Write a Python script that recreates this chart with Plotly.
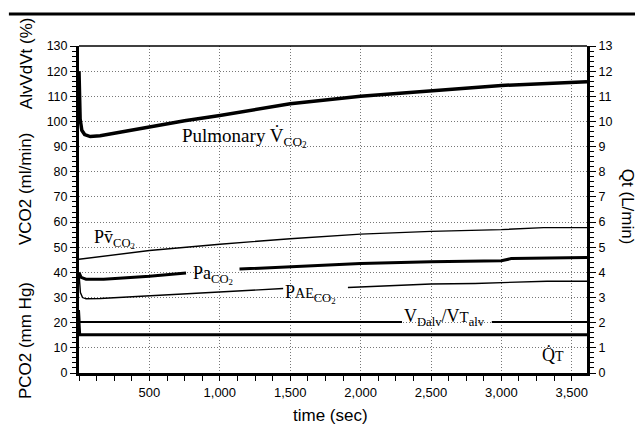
import plotly.graph_objects as go

# ---------------- data ----------------
t_pulm = [0, 8, 20, 40, 80, 150, 300, 500, 750, 1000, 1250, 1500, 2000, 2500, 3000, 3608]
v_pulm = [120, 101, 96.5, 94.8, 94, 94.3, 95.8, 97.8, 100.3, 102.4, 104.8, 107, 110, 112.3, 114.3, 115.8]

t_pv = [0, 500, 1000, 1500, 2000, 2500, 3000, 3300, 3608]
v_pv = [45.2, 48.7, 51.2, 53.4, 55.2, 56.3, 57.0, 57.8, 57.8]

t_pa = [0, 15, 50, 175, 500, 760, 950, 1140, 1500, 2000, 2500, 3000, 3070, 3608]
v_pa = [40, 38, 37.3, 37.3, 38.5, 39.8, None, 41.3, 42.2, 43.5, 44.2, 44.6, 45.5, 45.9]

t_pae = [0, 10, 25, 50, 150, 500, 1000, 1290, 1450, 1700, 1910, 2000, 2500, 2813, 3325, 3608]
v_pae = [39.5, 32, 30, 29.5, 29.6, 30.7, 32.1, 33.0, 33.6, None, 34.0, 34.2, 35.4, 35.6, 36.5, 36.5]

t_vd = [0, 5, 2294, 2600, 2932, 3608]
v_vd = [25, 20.3, 20.3, None, 20.3, 20.3]

t_qt = [0, 5, 3608]
v_qt = [2.0, 1.52, 1.52]

x_tick_vals = [500, 1000, 1500, 2000, 2500, 3000, 3500]
x_tick_text = ["500", "1,000", "1,500", "2,000", "2,500", "3,000", "3,500"]

# ---------------- figure ----------------
SANS = "Arial, Liberation Sans, sans-serif"
SERIF = "Times New Roman, Liberation Serif, serif"
GRID_DASH = "1px,2px"
GRID_COLOR = "#777"

fig = go.Figure()

def add_line(t, v, width, yaxis="y"):
    fig.add_trace(go.Scatter(x=t, y=v, mode="lines", yaxis=yaxis,
                             line=dict(color="black", width=width),
                             connectgaps=False, showlegend=False, hoverinfo="skip"))

add_line(t_pv, v_pv, 1.4)
add_line(t_pae, v_pae, 1.4)
add_line(t_pa, v_pa, 3)
add_line(t_pulm, v_pulm, 3.5)
add_line(t_vd, v_vd, 2)
add_line(t_qt, v_qt, 3, yaxis="y2")

# page body has an 8px margin, so the figure is 8px smaller than the window
fig.update_layout(
    width=635, height=418, autosize=False,
    margin=dict(l=71, r=56, t=38, b=53),
    paper_bgcolor="white", plot_bgcolor="white",
    showlegend=False,
    font=dict(family=SANS, color="black", size=12),
    xaxis=dict(
        range=[0, 3608], showline=True, linewidth=3, linecolor="black",
        automargin=False,
        tickmode="array", tickvals=x_tick_vals, ticktext=x_tick_text,
        ticks="outside", ticklen=5, tickwidth=1, tickcolor="black",
        tickfont=dict(family=SANS, size=13, color="black"),
        showgrid=True, gridcolor=GRID_COLOR, griddash=GRID_DASH, gridwidth=1,
        zeroline=False,
        minor=dict(dtick=125, tick0=0, ticks="outside", ticklen=5, tickcolor="black", showgrid=False),
    ),
    yaxis=dict(
        range=[0, 130], showline=True, linewidth=3, linecolor="black",
        automargin=False,
        dtick=10, tick0=0, ticks="outside", ticklen=6, tickwidth=1, tickcolor="black",
        tickfont=dict(family=SANS, size=12.5, color="black"),
        showgrid=True, gridcolor=GRID_COLOR, griddash=GRID_DASH, gridwidth=1,
        zeroline=False,
        minor=dict(dtick=2, ticks="outside", ticklen=4, tickcolor="black", showgrid=False),
    ),
    yaxis2=dict(
        range=[0, 13], overlaying="y", side="right", anchor="x",
        automargin=False,
        showline=True, linewidth=3, linecolor="black",
        dtick=1, tick0=0, ticks="outside", ticklen=6, tickwidth=1, tickcolor="black",
        tickfont=dict(family=SANS, size=12.5, color="black"),
        showgrid=False, zeroline=False,
        minor=dict(dtick=0.2, ticks="outside", ticklen=4, tickcolor="black", showgrid=False),
    ),
)

# top thin border of plot + page rule
fig.add_shape(type="line", xref="paper", yref="paper", x0=0, x1=1, y0=1, y1=1,
              line=dict(color="black", width=1.5))
fig.add_shape(type="line", xref="paper", yref="paper", x0=-0.138, x1=1.12, y0=1.098, y1=1.098,
              line=dict(color="black", width=3))

# curve labels
def label(x, y, text, size=18, yref="y"):
    fig.add_annotation(x=x, y=y, xref="x", yref=yref, text=text, showarrow=False,
                       xanchor="left", yanchor="middle",
                       font=dict(family=SERIF, size=size, color="black"))

label(720, 93.8, "Pulmonary V\u0307<sub>CO<sub>2</sub></sub>", size=19)
label(90, 53.3, "Pv\u0304<sub>CO<sub>2</sub></sub>")
label(793, 38.9, "Pa<sub>CO<sub>2</sub></sub>")
label(1451, 31.3, "P<span style='font-size:14px'>AE</span><sub>CO<sub>2</sub></sub>")
label(2295, 22.2, "V<sub>Dalv</sub>/V<span style='font-size:15px'>T</span><sub>alv</sub>")
label(3275, 7.5, "Q\u0307<span style='font-size:14px'>T</span>")

# axis titles
def title(x, y, text, angle):
    fig.add_annotation(x=x, y=y, xref="paper", yref="paper", text=text, showarrow=False,
                       textangle=angle, xanchor="center", yanchor="middle",
                       font=dict(family=SANS, size=17, color="black"))

title(-0.104, 0.948, "AlvVdVt (%)", -90)
title(-0.104, 0.563, "VCO2 (ml/min)", -90)
title(-0.104, 0.098, "PCO2 (mm Hg)", -90)
title(1.079, 0.508, "Qt (L/min)", 90)
title(0.496, -0.130, "time (sec)", 0)

fig.write_html("out.html")
